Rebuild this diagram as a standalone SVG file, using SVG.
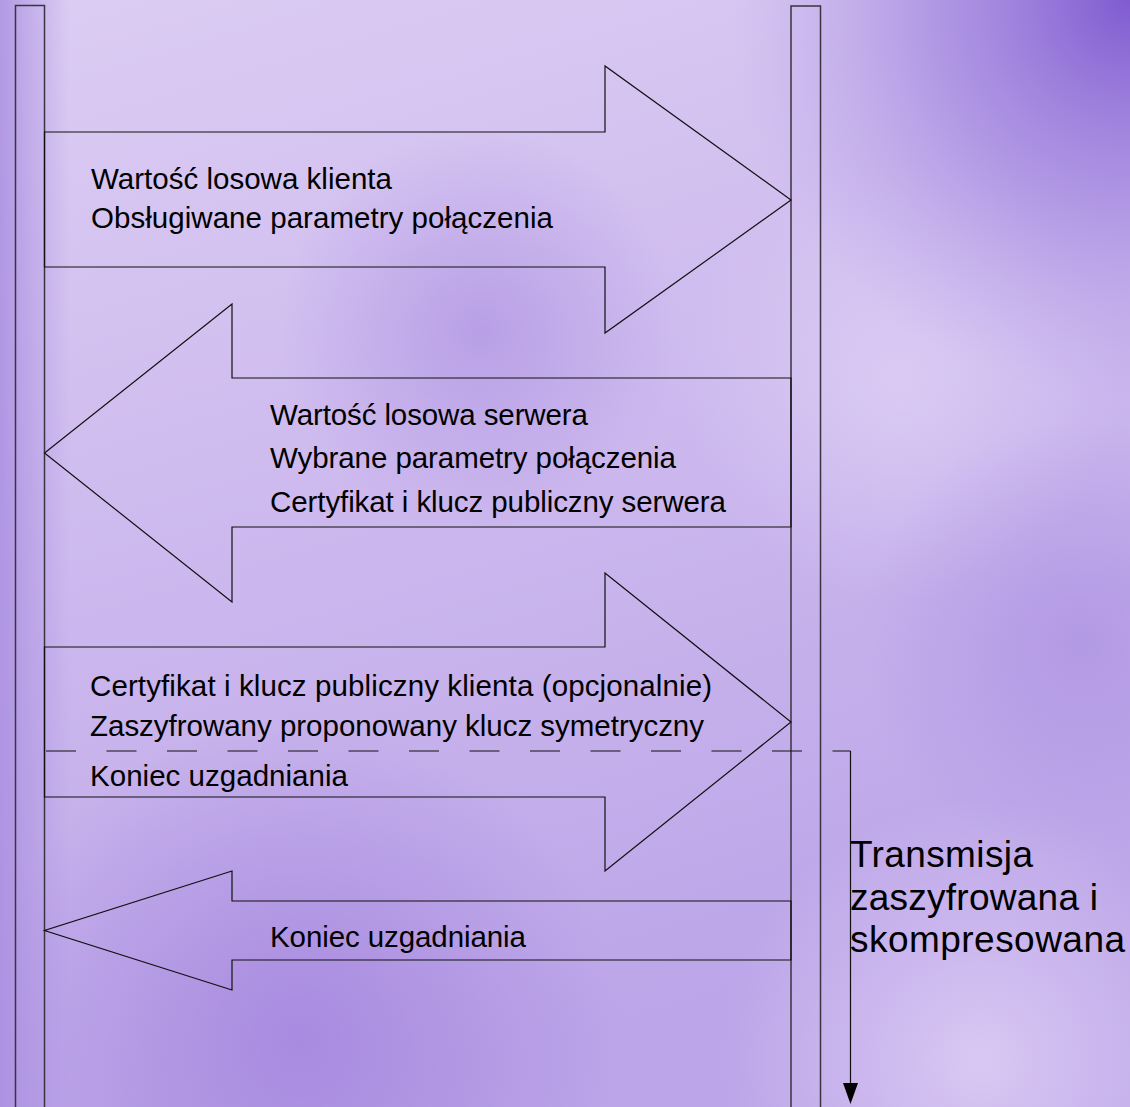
<svg xmlns="http://www.w3.org/2000/svg" width="1130" height="1107" viewBox="0 0 1130 1107">
  <style>
    .life { fill: none; stroke: #3a3440; stroke-width: 1.5; }
    .arrow { fill: none; stroke: #111; stroke-width: 1.2; stroke-linejoin: miter; }
    .lbl { font-family: "Liberation Sans", Arial, sans-serif; font-size: 29.5px; fill: #000; }
    .big { font-family: "Liberation Sans", Arial, sans-serif; font-size: 37px; fill: #000; }
    .dash { fill: none; stroke: #111; stroke-width: 1.2; stroke-dasharray: 30 30.5; }
    .conn { fill: none; stroke: #111; stroke-width: 1.2; }
  </style>
  <defs>
    <linearGradient id="bg" x1="0" y1="0" x2="0.3" y2="1">
      <stop offset="0" stop-color="#dccdf3"/>
      <stop offset="0.5" stop-color="#cdb9ee"/>
      <stop offset="1" stop-color="#bca5e8"/>
    </linearGradient>
    <radialGradient id="tr" cx="1130" cy="0" r="400" gradientUnits="userSpaceOnUse">
      <stop offset="0" stop-color="#7f5bd0" stop-opacity="1"/>
      <stop offset="0.5" stop-color="#9a7cdc" stop-opacity="0.6"/>
      <stop offset="1" stop-color="#b49be6" stop-opacity="0"/>
    </radialGradient>
    <radialGradient id="mid" cx="480" cy="330" r="200" gradientUnits="userSpaceOnUse">
      <stop offset="0" stop-color="#a98ce0" stop-opacity="0.6"/>
      <stop offset="1" stop-color="#a98ce0" stop-opacity="0"/>
    </radialGradient>
    <radialGradient id="bl" cx="300" cy="1040" r="320" gradientUnits="userSpaceOnUse">
      <stop offset="0" stop-color="#a485de" stop-opacity="0.85"/>
      <stop offset="1" stop-color="#a485de" stop-opacity="0"/>
    </radialGradient>
    <radialGradient id="rm" cx="1080" cy="640" r="220" gradientUnits="userSpaceOnUse">
      <stop offset="0" stop-color="#a88ce0" stop-opacity="0.6"/>
      <stop offset="1" stop-color="#a88ce0" stop-opacity="0"/>
    </radialGradient>
    <radialGradient id="lt" cx="900" cy="380" r="220" gradientUnits="userSpaceOnUse">
      <stop offset="0" stop-color="#e0d2f6" stop-opacity="0.7"/>
      <stop offset="1" stop-color="#e0d2f6" stop-opacity="0"/>
    </radialGradient>
    <radialGradient id="br" cx="980" cy="1060" r="260" gradientUnits="userSpaceOnUse">
      <stop offset="0" stop-color="#dccbf4" stop-opacity="0.9"/>
      <stop offset="1" stop-color="#dccbf4" stop-opacity="0"/>
    </radialGradient>
    <linearGradient id="le" x1="0" y1="0" x2="1" y2="0">
      <stop offset="0" stop-color="#a88ce0" stop-opacity="0.8"/>
      <stop offset="1" stop-color="#a88ce0" stop-opacity="0"/>
    </linearGradient>
  </defs>

  <g id="background">
    <rect x="0" y="0" width="1130" height="1107" fill="url(#bg)"/>
    <rect x="0" y="0" width="1130" height="1107" fill="url(#lt)"/>
    <rect x="0" y="0" width="1130" height="1107" fill="url(#mid)"/>
    <rect x="0" y="0" width="1130" height="1107" fill="url(#bl)"/>
    <rect x="0" y="0" width="1130" height="1107" fill="url(#rm)"/>
    <rect x="0" y="0" width="1130" height="1107" fill="url(#br)"/>
    <rect x="0" y="0" width="1130" height="1107" fill="url(#tr)"/>
    <rect x="0" y="0" width="70" height="1107" fill="url(#le)"/>
  </g>

  <g id="client-lifeline">
    <rect class="life" x="15.5" y="5.5" width="29" height="1120"/>
  </g>
  <g id="server-lifeline">
    <rect class="life" x="791" y="6" width="29.5" height="1120"/>
  </g>

  <g id="connectors">
    <g id="msg-client-hello">
      <polygon class="arrow" points="44.5,132 605,132 605,66 791,200 605,333 605,267 44.5,267"/>
    </g>
    <g id="msg-server-hello">
      <polygon class="arrow" points="791,378 232,378 232,304 44.5,453 232,602 232,527 791,527"/>
    </g>
    <g id="msg-client-key">
      <polygon class="arrow" points="44.5,647 605,647 605,573 791,722 605,871 605,797 44.5,797"/>
    </g>
    <g id="msg-server-finished">
      <polygon class="arrow" points="791,901 232,901 232,871 44.5,930.5 232,990 232,960 791,960"/>
    </g>
    <g id="encrypted-marker">
      <path class="dash" d="M46,751 H850.5"/>
      <path class="conn" d="M850.5,751 V1085"/>
      <polygon points="843,1083 858,1083 850.5,1104" fill="#000"/>
    </g>
  </g>

  <g id="labels">
    <text class="lbl" x="91" y="189" textLength="301">Wartość losowa klienta</text>
    <text class="lbl" x="91" y="228" textLength="462">Obsługiwane parametry połączenia</text>
    <text class="lbl" x="270" y="425" textLength="318">Wartość losowa serwera</text>
    <text class="lbl" x="270" y="468" textLength="406">Wybrane parametry połączenia</text>
    <text class="lbl" x="270" y="512" textLength="456">Certyfikat i klucz publiczny serwera</text>
    <text class="lbl" x="90" y="696" textLength="622">Certyfikat i klucz publiczny klienta (opcjonalnie)</text>
    <text class="lbl" x="90" y="736" textLength="614">Zaszyfrowany proponowany klucz symetryczny</text>
    <text class="lbl" x="90" y="786" textLength="258">Koniec uzgadniania</text>
    <text class="lbl" x="270" y="947" textLength="256">Koniec uzgadniania</text>
    <text class="big" x="850" y="867" textLength="183">Transmisja</text>
    <text class="big" x="850" y="910" textLength="248">zaszyfrowana i</text>
    <text class="big" x="850" y="952" textLength="275">skompresowana</text>
  </g>
</svg>
